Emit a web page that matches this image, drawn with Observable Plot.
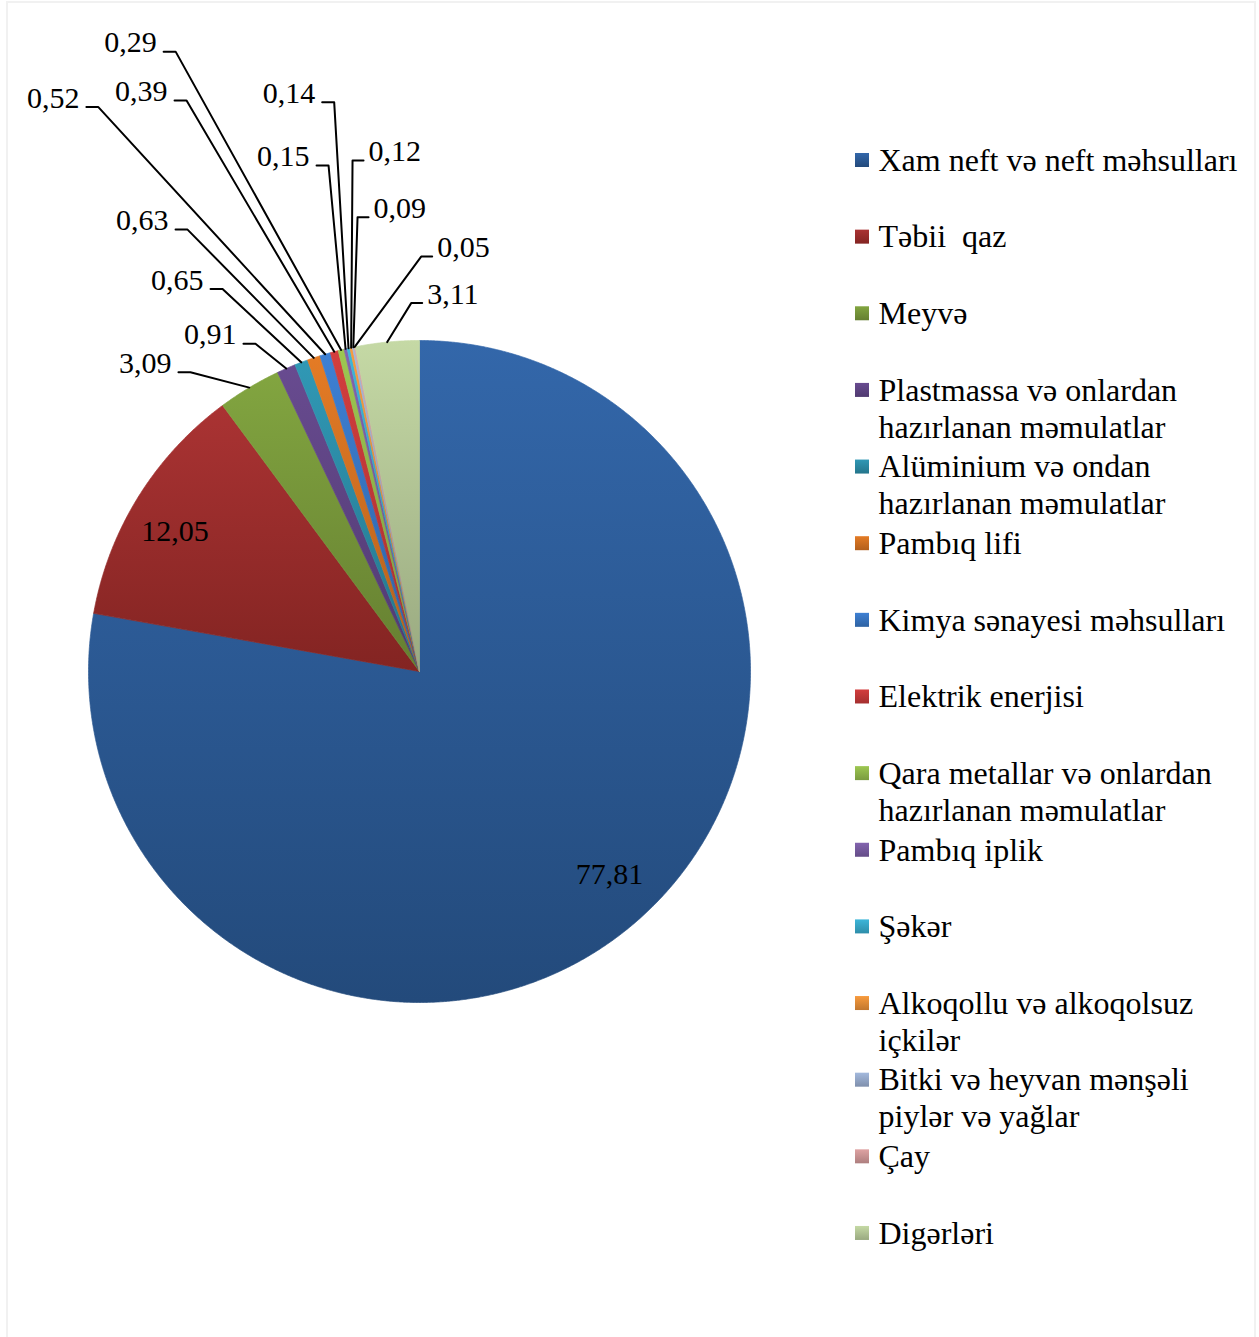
<!DOCTYPE html>
<html><head><meta charset="utf-8">
<script src="https://cdn.jsdelivr.net/npm/d3@7"></script>
<script src="https://cdn.jsdelivr.net/npm/@observablehq/plot@0.6"></script>
<style>
html,body{margin:0;padding:0;background:#fff;}
#wrap{position:relative;width:1259px;height:1337px;overflow:hidden;}
#frame{position:absolute;left:6px;top:1px;width:1246px;height:1400px;border:2px solid #f1f1f1;border-bottom:none;pointer-events:none;}
svg text{white-space:pre;}
</style></head><body>
<div id="wrap"><div id="chart"></div><div id="frame"></div></div>
<script>
// ---- data ----
const categories = [
  "Xam neft və neft məhsulları",
  "Təbii  qaz",
  "Meyvə",
  "Plastmassa və onlardan\nhazırlanan məmulatlar",
  "Alüminium və ondan\nhazırlanan məmulatlar",
  "Pambıq lifi",
  "Kimya sənayesi məhsulları",
  "Elektrik enerjisi",
  "Qara metallar və onlardan\nhazırlanan məmulatlar",
  "Pambıq iplik",
  "Şəkər",
  "Alkoqollu və alkoqolsuz\niçkilər",
  "Bitki və heyvan mənşəli\npiylər və yağlar",
  "Çay",
  "Digərləri"
];
const values = [77.81, 12.05, 3.09, 0.91, 0.65, 0.63, 0.52, 0.39, 0.29, 0.15, 0.14, 0.12, 0.09, 0.05, 3.11];

// ---- styles / layout ----
const colorTop = ["#3367aa","#aa3333","#82a540","#684b90","#3098b5","#e47b25","#3e80d3","#d33e3e","#9dc751","#8364af","#3db6d9","#f89b3d","#a3b9dd","#dfa3a3","#c5d9a5"];
const colorBottom = ["#234a7b","#832422","#657f31","#503a70","#24758b","#b25f1c","#2e62a2","#a42f2f","#7a9b3f","#644c87","#2e8da9","#c1772f","#7f8fac","#ad7e7e","#99a980"];
// manual data-label placement (polar: degrees clockwise from 12 o'clock, distance in pie radii)
const labelAngle = [136.9, -60.2, -38.85, -28.24, -28.64, -28.9, -30.55, -23.22, -22.43, -11.5, -9.7, -6.25, -6.4, 1.75, 0.42];
const labelDist  = [0.840, 0.851, 1.161, 1.124, 1.317, 1.525, 1.980, 1.877, 2.026, 1.560, 1.745, 1.553, 1.381, 1.254, 1.113];
const insideLabel = [true, true, false, false, false, false, false, false, false, false, false, false, false, false, false];

const W = 1259, H = 1337;
const cx = 419, cy = 671, R = 331;
const FONT = "'Liberation Serif','Times New Roman',serif";
const FS = 30, LFS = 32;
const legendX = 855, legendY0 = 160, legendStep = 76.64, legendLine = 37, sq = 14;

const fmt = v => d3.format(".2f")(v).replace(".", ",");
const pt = (a, r) => [cx + r * Math.sin(a), cy - r * Math.cos(a)];

const total = d3.sum(values);
let acc = 0;
const slices = values.map((v, i) => {
  const a0 = acc / total * 2 * Math.PI; acc += v;
  const a1 = acc / total * 2 * Math.PI;
  return {i, name: categories[i].replace("\n", " "), v, a0, a1, mid: (a0 + a1) / 2};
});

function sliceRows(s) {
  const rows = [{x: cx, y: cy}];
  const n = Math.max(2, Math.ceil((s.a1 - s.a0) / (Math.PI / 720)));
  for (let k = 0; k <= n; k++) {
    const [x, y] = pt(s.a0 + (s.a1 - s.a0) * k / n, R);
    rows.push({x, y});
  }
  rows.push({x: cx, y: cy});
  return rows;
}

// labels
const leaderRows = [], leftLabels = [], rightLabels = [], inLabels = [];
slices.forEach(s => {
  const [lx, ly] = pt(labelAngle[s.i] * Math.PI / 180, labelDist[s.i] * R);
  const text = fmt(s.v);
  if (insideLabel[s.i]) { inLabels.push({x: lx, y: ly, text}); return; }
  const [ax, ay] = pt(s.mid, R);
  const left = ax > lx;
  const ex = left ? lx + 12 : lx - 11;
  leaderRows.push({k: s.i, x: lx, y: ly}, {k: s.i, x: ex, y: ly}, {k: s.i, x: ax, y: ay});
  (left ? leftLabels : rightLabels).push({x: left ? lx - 7 : lx + 5, y: ly - 9, text});
});

// legend
const legendRects = [], legendText = [];
categories.forEach((c, i) => {
  const yy = legendY0 + i * legendStep;
  legendRects.push({i, x1: legendX, x2: legendX + sq, y1: yy - sq / 2, y2: yy + sq / 2});
  c.split("\n").forEach((line, k) => legendText.push({x: legendX + 23, y: yy + k * legendLine, text: line}));
});

const marks = [];
slices.forEach(s => {
  const g = `url(#grad${s.i})`;
  marks.push(Plot.line(sliceRows(s), {x: "x", y: "y", fill: g, stroke: g, strokeWidth: 0.7, curve: "linear"}));
});
marks.push(Plot.line(leaderRows, {x: "x", y: "y", z: "k", stroke: "black", strokeWidth: 2, curve: "linear"}));
const textOpts = {x: "x", y: "y", text: "text", fontSize: FS, fontFamily: FONT, fill: "black"};
marks.push(Plot.text(leftLabels, {...textOpts, textAnchor: "end"}));
marks.push(Plot.text(rightLabels, {...textOpts, textAnchor: "start"}));
marks.push(Plot.text(inLabels, {...textOpts, textAnchor: "middle"}));
legendRects.forEach(r => marks.push(Plot.rect([r], {x1: "x1", x2: "x2", y1: "y1", y2: "y2", fill: `url(#grad${r.i})`})));
marks.push(Plot.text(legendText, {...textOpts, fontSize: LFS, textAnchor: "start"}));

const svg = Plot.plot({
  width: W, height: H,
  margin: 0,
  x: {type: "linear", domain: [0, W], range: [0, W], axis: null},
  y: {type: "linear", domain: [0, H], range: [0, H], axis: null},
  style: {fontFamily: FONT, background: "white"},
  marks
});

const defs = d3.select(svg).insert("defs", ":first-child");
colorTop.forEach((c, i) => {
  const lg = defs.append("linearGradient").attr("id", `grad${i}`)
    .attr("x1", 0).attr("y1", 0).attr("x2", 0).attr("y2", 1);
  lg.append("stop").attr("offset", "0%").attr("stop-color", c);
  lg.append("stop").attr("offset", "100%").attr("stop-color", colorBottom[i]);
});

document.getElementById("chart").appendChild(svg);
</script>
</body></html>
